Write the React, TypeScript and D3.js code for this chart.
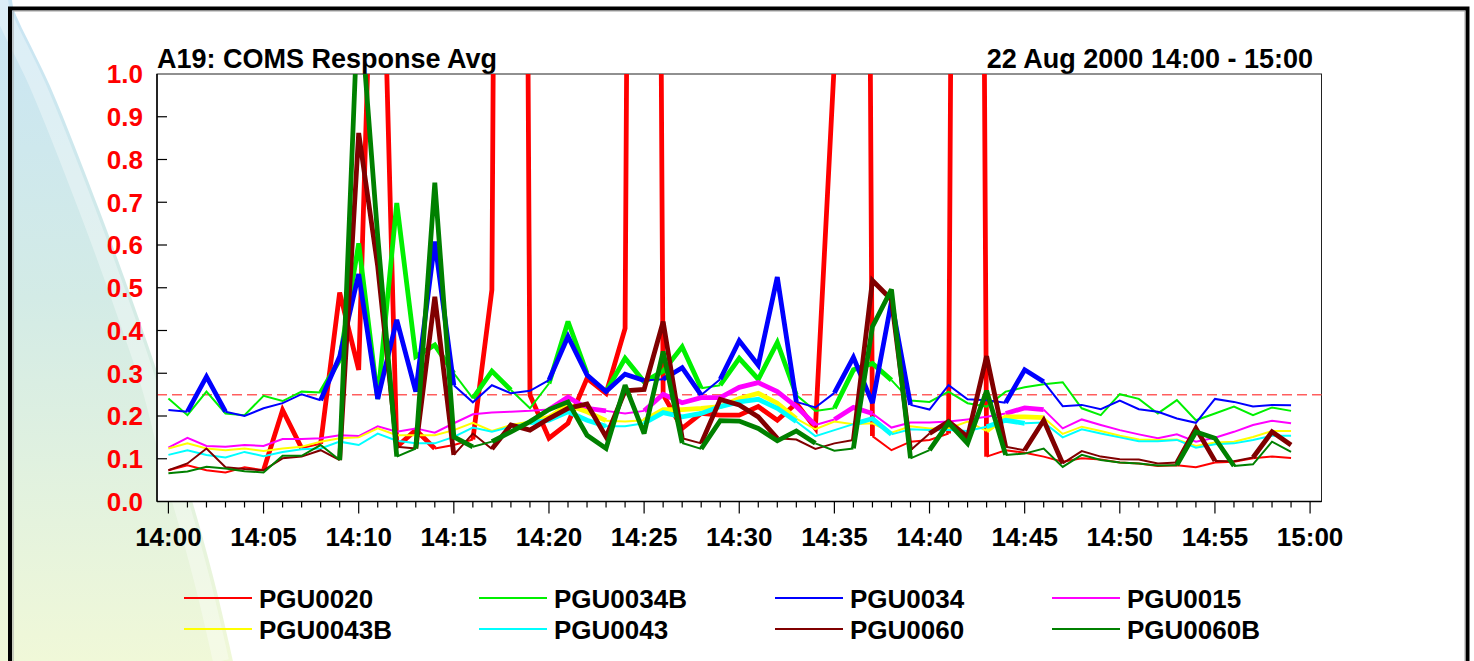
import React from 'react';
import * as d3 from 'd3';

// ---------- data ----------
const seriesNames = ['PGU0020', 'PGU0034B', 'PGU0034', 'PGU0015', 'PGU0043B', 'PGU0043', 'PGU0060', 'PGU0060B'];
const seriesColors = ['#ff0000', '#00f000', '#0000ff', '#ff00ff', '#ffff00', '#00ffff', '#800000', '#008000'];

// minute offsets from 14:00 (one sample per minute, 14:00 .. 14:59)
const minuteOffsets = d3.range(0, 60);

const pgu0020 = [0.073, 0.085, 0.073, 0.068, 0.08, 0.073, 0.214, 0.125, 0.135, 0.489, 0.308, 1.8, 0.128, 0.167, 0.124, 0.132, 0.145, 0.495, 8, 0.249, 0.148, 0.183, 0.288, 0.253, 0.405, 8, 0.25, 0.171, 0.206, 0.202, 0.202, 0.222, 0.19, 0.23, 0.171, 1.03, 8, 0.153, 0.12, 0.14, 0.144, 0.159, 8, 0.105, 0.12, 0.114, 0.105, 0.093, 0.101, 0.098, 0.091, 0.089, 0.083, 0.085, 0.08, 0.091, 0.093, 0.101, 0.105, 0.102];
const pgu0034b = [0.241, 0.202, 0.257, 0.206, 0.202, 0.247, 0.235, 0.257, 0.255, 0.331, 0.604, 0.24, 0.698, 0.339, 0.366, 0.3, 0.241, 0.305, 0.261, 0.218, 0.276, 0.421, 0.3, 0.257, 0.335, 0.28, 0.305, 0.362, 0.265, 0.272, 0.335, 0.286, 0.372, 0.249, 0.212, 0.218, 0.308, 0.323, 0.284, 0.236, 0.233, 0.257, 0.23, 0.222, 0.257, 0.267, 0.274, 0.279, 0.218, 0.202, 0.251, 0.24, 0.206, 0.237, 0.19, 0.206, 0.222, 0.202, 0.22, 0.212];
const pgu0034 = [0.214, 0.21, 0.292, 0.21, 0.2, 0.218, 0.23, 0.251, 0.237, 0.339, 0.532, 0.24, 0.425, 0.257, 0.608, 0.272, 0.232, 0.272, 0.253, 0.259, 0.284, 0.386, 0.296, 0.257, 0.298, 0.283, 0.286, 0.313, 0.249, 0.286, 0.376, 0.319, 0.525, 0.233, 0.22, 0.254, 0.337, 0.23, 0.468, 0.226, 0.215, 0.272, 0.239, 0.237, 0.231, 0.308, 0.28, 0.223, 0.226, 0.216, 0.236, 0.216, 0.21, 0.194, 0.184, 0.24, 0.233, 0.222, 0.226, 0.225];
const pgu0015 = [0.126, 0.149, 0.13, 0.128, 0.132, 0.13, 0.146, 0.146, 0.148, 0.155, 0.153, 0.176, 0.163, 0.171, 0.161, 0.183, 0.204, 0.208, 0.21, 0.212, 0.215, 0.244, 0.218, 0.212, 0.206, 0.212, 0.251, 0.231, 0.243, 0.243, 0.267, 0.278, 0.257, 0.222, 0.179, 0.192, 0.22, 0.206, 0.173, 0.185, 0.185, 0.187, 0.192, 0.198, 0.206, 0.219, 0.215, 0.171, 0.192, 0.179, 0.167, 0.157, 0.148, 0.157, 0.14, 0.149, 0.163, 0.179, 0.189, 0.183];
const pgu0043b = [0.124, 0.136, 0.124, 0.12, 0.124, 0.118, 0.124, 0.128, 0.14, 0.148, 0.15, 0.171, 0.155, 0.155, 0.155, 0.167, 0.184, 0.165, 0.179, 0.187, 0.197, 0.226, 0.21, 0.189, 0.187, 0.19, 0.215, 0.215, 0.218, 0.222, 0.241, 0.253, 0.23, 0.194, 0.169, 0.187, 0.181, 0.183, 0.161, 0.176, 0.171, 0.171, 0.187, 0.165, 0.198, 0.198, 0.196, 0.158, 0.175, 0.165, 0.154, 0.145, 0.144, 0.145, 0.13, 0.138, 0.14, 0.151, 0.165, 0.165];
const pgu0043 = [0.109, 0.12, 0.109, 0.103, 0.116, 0.106, 0.116, 0.122, 0.124, 0.14, 0.132, 0.159, 0.142, 0.136, 0.136, 0.151, 0.173, 0.163, 0.175, 0.184, 0.19, 0.21, 0.19, 0.176, 0.176, 0.183, 0.208, 0.198, 0.206, 0.222, 0.233, 0.239, 0.218, 0.187, 0.153, 0.167, 0.181, 0.194, 0.157, 0.169, 0.167, 0.167, 0.165, 0.175, 0.19, 0.183, 0.185, 0.15, 0.169, 0.159, 0.15, 0.141, 0.141, 0.144, 0.126, 0.134, 0.136, 0.144, 0.154, 0.154];
const pgu0060 = [0.073, 0.089, 0.124, 0.08, 0.076, 0.073, 0.101, 0.105, 0.12, 0.097, 0.862, 0.55, 0.128, 0.124, 0.479, 0.109, 0.159, 0.123, 0.179, 0.167, 0.194, 0.218, 0.228, 0.151, 0.259, 0.262, 0.421, 0.148, 0.136, 0.239, 0.226, 0.198, 0.148, 0.145, 0.123, 0.136, 0.144, 0.517, 0.472, 0.12, 0.159, 0.187, 0.151, 0.34, 0.128, 0.12, 0.19, 0.089, 0.118, 0.105, 0.099, 0.098, 0.089, 0.091, 0.171, 0.095, 0.094, 0.103, 0.163, 0.132];
const pgu0060b = [0.066, 0.07, 0.081, 0.077, 0.071, 0.068, 0.107, 0.107, 0.132, 0.097, 1.2, 0.62, 0.105, 0.124, 0.746, 0.151, 0.128, 0.14, 0.163, 0.187, 0.215, 0.233, 0.155, 0.124, 0.272, 0.159, 0.351, 0.137, 0.123, 0.189, 0.188, 0.171, 0.142, 0.165, 0.136, 0.119, 0.124, 0.409, 0.496, 0.101, 0.12, 0.184, 0.136, 0.259, 0.109, 0.112, 0.124, 0.081, 0.109, 0.097, 0.091, 0.089, 0.084, 0.085, 0.163, 0.148, 0.083, 0.087, 0.14, 0.116];

const seriesValues = [pgu0020, pgu0034b, pgu0034, pgu0015, pgu0043b, pgu0043, pgu0060, pgu0060b];

const xTickLabels = ['14:00', '14:05', '14:10', '14:15', '14:20', '14:25', '14:30', '14:35', '14:40', '14:45', '14:50', '14:55', '15:00'];
const yTickValues = [0, 0.1, 0.2, 0.3, 0.4, 0.5, 0.6, 0.7, 0.8, 0.9, 1.0];
const thresholdValue = 0.25;
const chartTitle = 'A19: COMS Response Avg';
const chartPeriod = '22 Aug 2000 14:00 - 15:00';

// ---------- layout ----------
const W = 1474;
const H = 661;
const plot = { left: 157, right: 1321.5, top: 74, bottom: 501.5 };
const FONT = "'Liberation Sans', Arial, Helvetica, sans-serif";

const x = d3.scaleLinear().domain([-0.6, 60.6]).range([plot.left, plot.right]);
const y = d3.scaleLinear().domain([0, 1]).range([plot.bottom, plot.top]);

type Run = { thick: boolean; idx: number[] };

// segments that rise clearly above the series' own typical level are drawn heavier
function segmentRuns(values: number[]): Run[] {
  const med = d3.median(values) as number;
  const runs: Run[] = [];
  for (let i = 0; i < values.length - 1; i++) {
    const thick = Math.max(values[i], values[i + 1]) > 1.17 * med;
    const last = runs[runs.length - 1];
    if (last && last.thick === thick) last.idx.push(i + 1);
    else runs.push({ thick, idx: [i, i + 1] });
  }
  return runs;
}

function Background() {
  const edge: [number, number][] = [
    [12, 0], [14, 10], [50, 86], [100, 212], [140, 322], [162, 388], [182, 466], [200, 528], [217, 592], [233, 661],
  ];
  const curve = d3.line().curve(d3.curveCatmullRom)(edge) as string;
  const fillPath = `M0,0 L12,0 ${curve.replace(/^M/, 'L')} L0,${H} Z`;
  const sheen = d3.line().curve(d3.curveCatmullRom)(edge.map(([a, b]) => [a - 12, b] as [number, number])) as string;
  return (
    <g>
      <defs>
        <linearGradient id="bgGrad" x1="0" y1="0" x2="0" y2="1">
          <stop offset="0%" stopColor="#c9e5f4" />
          <stop offset="45%" stopColor="#d3ebe6" />
          <stop offset="100%" stopColor="#f0f8d8" />
        </linearGradient>
        <clipPath id="swooshClip">
          <path d={fillPath} />
        </clipPath>
      </defs>
      <rect x={0} y={0} width={W} height={H} fill="#ffffff" />
      <path d={fillPath} fill="url(#bgGrad)" />
      <path d={sheen} fill="none" stroke="#ffffff" strokeOpacity={0.35} strokeWidth={16} clipPath="url(#swooshClip)" />
      <rect x={10} y={8.5} width={1457.5} height={H + 20} fill="none" stroke="#000" strokeWidth={4} />
      <rect x={13} y={11} width={1452} height={H + 20} fill="none" stroke="#a0a0a0" strokeWidth={1} />
    </g>
  );
}

function Series({ values, color }: { values: number[]; color: string }) {
  const runs = segmentRuns(values);
  const line = (idx: number[]) =>
    d3.line<number>().x((i) => x(minuteOffsets[i])).y((i) => y(values[i]))(idx) as string;
  return (
    <g>
      {runs.map((r, k) => (
        <path
          key={k}
          d={line(r.idx)}
          fill="none"
          stroke={color}
          strokeWidth={r.thick ? 4.8 : 2}
          strokeLinejoin="miter"
          strokeMiterlimit={3}
        />
      ))}
    </g>
  );
}

export default function App() {
  const xTicks = d3.range(0, 61);
  const legendCols = [184, 479, 775, 1052];
  const legendRows = [598, 629];
  return (
    <div style={{ position: 'absolute', left: 0, top: 0, width: W, height: H, overflow: 'hidden' }}>
      <svg width={W} height={H} style={{ display: 'block', fontFamily: FONT }}>
        <Background />
        <defs>
          <clipPath id="plotClip">
            <rect x={plot.left} y={plot.top} width={plot.right - plot.left} height={plot.bottom - plot.top} />
          </clipPath>
        </defs>

        {/* titles */}
        <text x={plot.left} y={68} fontSize={27} fontWeight="bold" fill="#000">{chartTitle}</text>
        <text x={1313} y={68} fontSize={27} fontWeight="bold" fill="#000" textAnchor="end">{chartPeriod}</text>

        {/* plot area */}
        <rect x={plot.left} y={plot.top} width={plot.right - plot.left} height={plot.bottom - plot.top} fill="#fff" stroke="#222" strokeWidth={1} />

        {/* threshold */}
        <line x1={plot.left} x2={plot.right} y1={y(thresholdValue)} y2={y(thresholdValue)} stroke="#ff5e5e" strokeWidth={1.5} strokeDasharray="10,5" />

        {/* series */}
        <g clipPath="url(#plotClip)">
          {seriesValues.map((vals, i) => (
            <Series key={seriesNames[i]} values={vals} color={seriesColors[i]} />
          ))}
        </g>

        {/* axes */}
        <line x1={plot.left} x2={plot.left} y1={plot.top} y2={plot.bottom} stroke="#000" strokeWidth={1.5} />
        <line x1={plot.left} x2={plot.right} y1={plot.bottom} y2={plot.bottom} stroke="#000" strokeWidth={1.5} />

        {yTickValues.map((v) => (
          <g key={v}>
            {v > 0 && v < 1 && (
              <line x1={plot.left} x2={plot.left + 10} y1={y(v)} y2={y(v)} stroke="#000" strokeWidth={1.2} />
            )}
            <text x={143} y={y(v) + 9.3} fontSize={26} fontWeight="bold" fill="#ff0000" textAnchor="end">
              {v.toFixed(1)}
            </text>
          </g>
        ))}

        {xTicks.map((m) => (
          <line key={m} x1={x(m)} x2={x(m)} y1={plot.bottom} y2={plot.bottom + (m % 5 === 0 ? 12 : 6)} stroke="#000" strokeWidth={1.2} />
        ))}
        {xTickLabels.map((lab, i) => (
          <text key={lab} x={x(i * 5)} y={546} fontSize={26} fontWeight="bold" fill="#000" textAnchor="middle">
            {lab}
          </text>
        ))}

        {/* legend */}
        {seriesNames.map((name, i) => {
          const col = legendCols[i % 4];
          const row = legendRows[Math.floor(i / 4)];
          return (
            <g key={name}>
              <line x1={col} x2={col + 68} y1={row} y2={row} stroke={seriesColors[i]} strokeWidth={2} />
              <text x={col + 75} y={row + 9.5} fontSize={26} fontWeight="bold" fill="#000">{name}</text>
            </g>
          );
        })}
      </svg>
    </div>
  );
}
